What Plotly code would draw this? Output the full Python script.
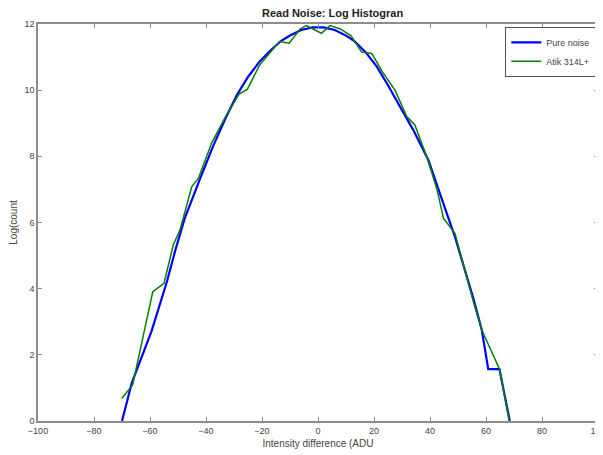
import plotly.graph_objects as go

pure_x = [-70, -66.5, -59.5, -54, -51, -47.5, -42, -37.5, -33, -29, -25, -21, -17, -13, -10, -6, -2,
          2, 6, 10, 13, 17, 21, 25, 29.3, 34, 39.4, 42.4, 45.5, 48.9, 52.5, 55.5, 58.5, 60.8, 64.8, 68.5]
pure_y = [0, 1.15, 2.7, 4.2, 5.15, 6.15, 7.35, 8.3, 9.15, 9.85, 10.4, 10.85, 11.2, 11.5, 11.65, 11.82, 11.9,
          11.9, 11.82, 11.65, 11.48, 11.15, 10.71, 10.15, 9.5, 8.8, 7.89, 7.13, 6.4, 5.57, 4.56, 3.7, 2.75, 1.57, 1.57, 0]

atik_x = [-70.1, -66.2, -59.0, -55, -51.7, -49.3, -45.1, -42.7, -38, -33, -28.2, -25.2, -20.9, -17, -13.8,
          -10.3, -6.4, -4.2, 1.2, 4.3, 8, 11.8, 15.6, 19.2, 23, 27.5, 31.7, 34.6, 39, 42.5, 44.8, 48.9,
          52.5, 55.5, 58.5, 64.8, 68.3]
atik_y = [0.68, 1.09, 3.91, 4.16, 5.32, 5.77, 7.08, 7.34, 8.4, 9.2, 9.88, 10.03, 10.75, 11.15, 11.47,
          11.42, 11.85, 11.95, 11.72, 11.95, 11.85, 11.64, 11.15, 11.11, 10.55, 10.0, 9.2, 8.95, 7.95, 7.0,
          6.13, 5.67, 4.5, 3.6, 2.75, 1.57, 0]

x_ticks = [-100, -80, -60, -40, -20, 0, 20, 40, 60, 80, 100]
y_ticks = [0, 2, 4, 6, 8, 10, 12]

FONT = "Liberation Sans"

fig = go.Figure()
fig.add_trace(go.Scatter(x=pure_x, y=pure_y, mode="lines", name="Pure noise",
                         line=dict(color="#0000ff", width=2.2)))
fig.add_trace(go.Scatter(x=atik_x, y=atik_y, mode="lines", name="Atik 314L+",
                         line=dict(color="#008000", width=1.5)))

axis_common = dict(showgrid=False, zeroline=False, showline=True, linecolor="#8c8c8c", linewidth=1.5,
                   mirror="ticks", ticks="inside", ticklen=4, tickcolor="#8c8c8c", automargin=False,
                   ticklabeloverflow="allow",
                   tickfont=dict(family=FONT, size=9, color="#444444"))

# page body adds an 8px offset; figure sized so the plot box lands where the reference has it
fig.update_layout(
    width=595, height=447,
    margin=dict(l=30, r=5, t=16, b=34, autoexpand=False),
    paper_bgcolor="white", plot_bgcolor="white",
    title=dict(text="<b>Read Noise: Log Histogran</b>", x=0.526, xanchor="center",
               xref="paper", y=0.997, yanchor="top",
               font=dict(family=FONT, size=11, color="#222222")),
    xaxis=dict(range=[-100, 100], tickvals=x_ticks, title=dict(text="Intensity difference (ADU", standoff=5,
               font=dict(family=FONT, size=10, color="#444444")), **axis_common),
    yaxis=dict(range=[0, 12], tickvals=y_ticks, title=dict(text="Log(count", standoff=5,
               font=dict(family=FONT, size=10, color="#444444")), **axis_common),
    legend=dict(x=0.997, y=0.993, xanchor="right", yanchor="top", bgcolor="white",
                bordercolor="#555555", borderwidth=1,
                font=dict(family=FONT, size=9, color="#444444"),
                tracegroupgap=0),
    showlegend=True,
)

fig.write_html("out.html")
